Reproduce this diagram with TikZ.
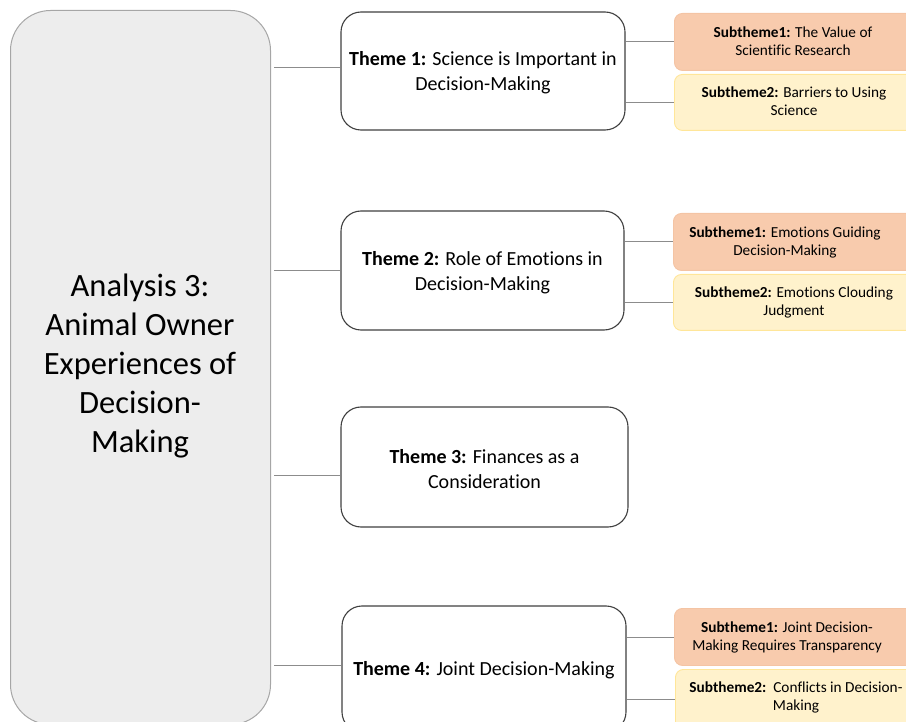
\documentclass[tikz,border=0pt]{standalone}
\usepackage{fontspec}
\setmainfont{Carlito}[RawFeature={-liga}]
\definecolor{panelfill}{HTML}{EDEDED}
\definecolor{panelline}{HTML}{A6A6A6}
\definecolor{themeline}{HTML}{404040}
\definecolor{connline}{HTML}{8C8C8C}
\definecolor{peachfill}{HTML}{F8CBAD}
\definecolor{peachline}{HTML}{F4C4A4}
\definecolor{creamfill}{HTML}{FFF2CC}
\definecolor{creamline}{HTML}{FFE699}
\begin{document}
\begin{tikzpicture}[x=1pt,y=-1pt,
  leftbox/.style={draw=panelline, fill=panelfill, line width=1pt, rounded corners=40pt, anchor=north west, inner sep=0pt},
  lefttext/.style={align=center, font=\fontsize{32.5}{39}\selectfont, text=black},
  themebox/.style={draw=themeline, fill=white, line width=1.1pt, rounded corners=20pt, align=center, inner sep=0pt, font=\fontsize{20}{25}\selectfont},
  themetext/.style={align=center, font=\fontsize{20}{25}\selectfont},
  subbox/.style={line width=0.9pt, rounded corners=8pt, anchor=north west, minimum width=241pt, inner sep=0pt},
  peach/.style={subbox, draw=peachline, fill=peachfill},
  cream/.style={subbox, draw=creamline, fill=creamfill},
  subtext/.style={align=center, font=\fontsize{15.3}{18}\selectfont},
  conn/.style={draw=connline, line width=0.9pt}]
\useasboundingbox (0,0) rectangle (906,722);
\clip (0,0) rectangle (906,722);

% main panel
\node[leftbox, minimum width=260pt, minimum height=714pt] (lb) at (10,10) {};
\node[lefttext] (lbt) at (140,366) {Analysis 3:\\Animal Owner\\Experiences of\\Decision-\\Making};

% themes
\node[themebox, minimum width=284pt, minimum height=118pt] (t1) at (483,71) {};
\node[themebox, minimum width=283pt, minimum height=119pt] (t2) at (482.5,270.5) {};
\node[themebox, minimum width=287pt, minimum height=120pt] (t3) at (484.5,467) {};
\node[themebox, minimum width=284pt, minimum height=126pt] (t4) at (484,669) {};
\node[themetext] (t1t) at (483,73) {\textbf{Theme 1:} Science is Important in\\Decision-Making};
\node[themetext] (t2t) at (482.5,272.5) {\textbf{Theme 2:} Role of Emotions in\\Decision-Making};
\node[themetext] (t3t) at (484.5,469) {\textbf{Theme 3:} Finances as a\\Consideration};
\node[themetext] (t4t) at (484,670) {\textbf{Theme 4:} Joint Decision-Making};

% subthemes
\node[peach, minimum height=57pt] (s11) at (674,13) {};
\node[cream, minimum height=56pt] (s12) at (674,74) {};
\node[peach, minimum height=57pt] (s21) at (673,213) {};
\node[cream, minimum height=56pt] (s22) at (673,274) {};
\node[peach, minimum height=57pt] (s41) at (674,608) {};
\node[cream, minimum height=60pt] (s42) at (675,669) {};

\node[subtext] (s11t) at (793,41) {\textbf{Subtheme1:} The Value of\\Scientific Research};
\node[subtext] (s12t) at (794,101) {\textbf{Subtheme2:} Barriers to Using\\Science};
\node[subtext] (s21t) at (785,242) {\textbf{Subtheme1:} Emotions Guiding\\Decision-Making};
\node[subtext] (s22t) at (794,302) {\textbf{Subtheme2:} Emotions Clouding\\Judgment};
\node[subtext] (s41t) at (787,637) {\textbf{Subtheme1:} Joint Decision-\\Making Requires Transparency};
\node[subtext] (s42t) at (796,697) {\textbf{Subtheme2:}\ \ Conflicts in Decision-\\Making};

% panel to theme connectors
\coordinate (c1) at ([yshift=4pt]t1.west);
\coordinate (c2) at (t2.west);
\coordinate (c3) at ([yshift=-8pt]t3.west);
\coordinate (c4) at ([yshift=4pt]t4.west);
\foreach \c in {c1,c2,c3,c4}
  \draw[conn, shorten <=3pt] (lb.east |- \c) -- (\c);

% theme to subtheme connectors
\draw[conn] (t1.east |- s11.west) -- (s11.west);
\draw[conn] (t1.east |- s12.west) -- (s12.west);
\draw[conn] (t2.east |- s21.west) -- (s21.west);
\draw[conn] (t2.east |- s22.west) -- (s22.west);
\draw[conn] (t4.east |- s41.west) -- (s41.west);
\draw[conn] (t4.east |- s42.west) -- (s42.west);
\end{tikzpicture}
\end{document}
